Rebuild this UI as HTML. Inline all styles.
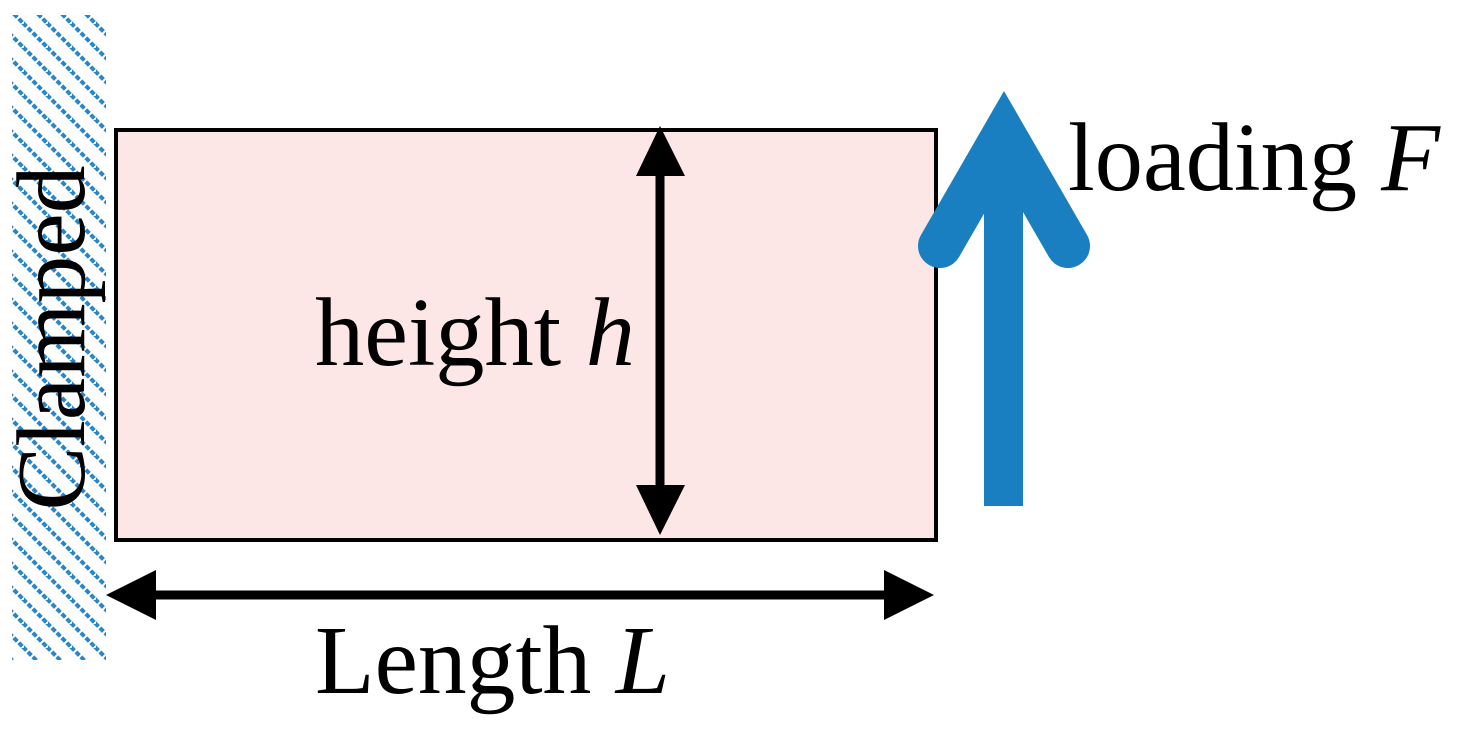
<!DOCTYPE html>
<html><head><style>html,body{margin:0;padding:0;background:#fff;width:1470px;height:735px;overflow:hidden}</style></head>
<body>
<svg width="1470" height="735" viewBox="0 0 1470 735" xmlns="http://www.w3.org/2000/svg" style="font-family:'Liberation Serif',serif">
<defs>
<pattern id="h" width="24" height="24" patternUnits="userSpaceOnUse">
<path d="M-6,-6 L30,30 M-6,18 L6,30 M18,-6 L30,6" stroke="#2a86c8" stroke-width="4" stroke-dasharray="5 2"/>
</pattern>
</defs>
<rect x="12" y="15" width="94" height="645" fill="url(#h)"/>
<rect x="116" y="130" width="820" height="410" fill="#fde6e6" stroke="#000" stroke-width="4"/>
<line x1="660" y1="170" x2="660" y2="490" stroke="#000" stroke-width="9"/>
<polygon points="660,126 636,176 685,176" fill="#000"/>
<polygon points="660,535 636,485 685,485" fill="#000"/>
<line x1="150" y1="595" x2="890" y2="595" stroke="#000" stroke-width="9"/>
<polygon points="106,595 156,570 156,620" fill="#000"/>
<polygon points="934,595 884,570 884,620" fill="#000"/>
<rect x="984" y="190" width="39" height="316" fill="#1a7fc0"/>
<polygon points="1004,96 1069,210 939,210" fill="#1a7fc0"/>
<polyline points="940,246 1004,135 1068,246" fill="none" stroke="#1a7fc0" stroke-width="44" stroke-linecap="round" stroke-linejoin="miter"/>
<text x="0" y="0" font-size="97" transform="translate(84,338) rotate(-90)" text-anchor="middle" textLength="345" lengthAdjust="spacingAndGlyphs">Clamped</text>
<text x="315" y="365" font-size="97" textLength="320" lengthAdjust="spacingAndGlyphs">height <tspan font-style="italic">h</tspan></text>
<text x="1068" y="190" font-size="97" textLength="372" lengthAdjust="spacingAndGlyphs">loading <tspan font-style="italic">F</tspan></text>
<text x="315" y="693" font-size="97" textLength="355" lengthAdjust="spacingAndGlyphs">Length <tspan font-style="italic">L</tspan></text>
</svg>
</body></html>
